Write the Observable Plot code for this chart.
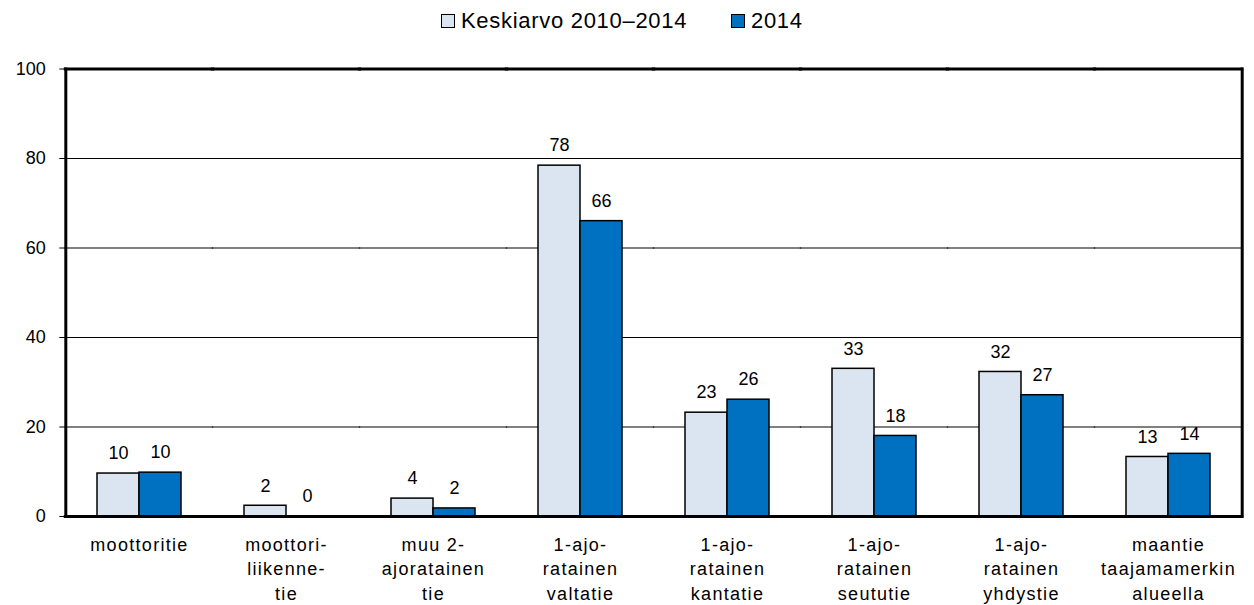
<!DOCTYPE html>
<html><head><meta charset="utf-8">
<script src="https://cdn.jsdelivr.net/npm/d3@7"></script>
<script src="https://cdn.jsdelivr.net/npm/@observablehq/plot@0.6"></script>
<style>
body{margin:0;background:#fff;font-family:"Liberation Sans",Arial,sans-serif;}
#legend{position:relative;height:44px;width:1254px;}
.item{position:absolute;top:7px;display:flex;align-items:center;font-size:22px;color:#000;height:28px;white-space:nowrap;letter-spacing:0.7px}
.sw{width:12px;height:12px;border:1px solid #000;margin-right:6px;box-sizing:content-box}
</style></head><body>
<div id="legend"></div><div id="chart"></div>
<script>
const categories = [
  "moottoritie",
  "moottori-\nliikenne-\ntie",
  "muu 2-\najoratainen\ntie",
  "1-ajo-\nratainen\nvaltatie",
  "1-ajo-\nratainen\nkantatie",
  "1-ajo-\nratainen\nseututie",
  "1-ajo-\nratainen\nyhdystie",
  "maantie\ntaajamamerkin\nalueella"
];
const series = ["Keskiarvo 2010–2014", "2014"];
const avgValues = [9.6, 2.4, 4.0, 78.4, 23.2, 33.0, 32.3, 13.3];
const values2014 = [9.8, 0, 1.8, 66.0, 26.1, 18.0, 27.1, 14.0];
const colors = ["#dbe5f1", "#0070c0"];
const yTicks = [0, 20, 40, 60, 80, 100];
const gridValues = [20, 40, 60, 80];
const borderValues = [0, 100];
const legendLeft = [441, 731];

const data = categories.flatMap((c, i) => [
  {category: c, series: series[0], value: avgValues[i]},
  {category: c, series: series[1], value: values2014[i]}
]);

// legend
const leg = document.getElementById("legend");
series.forEach((s, i) => {
  const it = document.createElement("div");
  it.className = "item";
  it.style.left = legendLeft[i] + "px";
  const sw = document.createElement("span");
  sw.className = "sw";
  sw.style.background = colors[i];
  const tx = document.createElement("span");
  tx.textContent = s;
  it.appendChild(sw); it.appendChild(tx);
  leg.appendChild(it);
});

const W = 1254, mL = 64, mR = 10.5;
const pInner = 0.43, pOuter = 0.215;
// half of the gap between facet bands, so rules join across facets
const step = (W - mL - mR) / (categories.length - pInner + 2 * pOuter);
const halfGap = step * pInner / 2;

const chart = Plot.plot({
  width: W, height: 561,
  marginTop: 24.5, marginBottom: 89, marginLeft: mL, marginRight: mR,
  style: {fontFamily: '"Liberation Sans", Arial, sans-serif', fontSize: "18px", color: "#000", background: "#fff", overflow: "visible"},
  fx: {domain: categories, paddingInner: pInner, paddingOuter: pOuter, label: null},
  x: {domain: series, padding: 0, axis: null},
  y: {domain: [0, 100], label: null},
  color: {domain: series, range: colors},
  marks: [
    Plot.ruleY(gridValues, {stroke: "#000", strokeWidth: 1, insetLeft: -halfGap - 0.5, insetRight: -halfGap - 0.5}),
    Plot.barY(data, {fx: "category", x: "series", y: "value", fill: "series", stroke: "#000", strokeWidth: 1.5}),
    Plot.text(data, {fx: "category", x: "series", y: "value", text: d => d3.format(".0f")(d.value), dy: -20, fontSize: 18}),
    Plot.ruleY(borderValues, {stroke: "#000", strokeWidth: 3, insetLeft: -halfGap - 1.5, insetRight: -halfGap - 1.5}),
    Plot.frame({anchor: "left", facetAnchor: "left", insetLeft: -halfGap, stroke: "#000", strokeWidth: 3}),
    Plot.frame({anchor: "right", facetAnchor: "right", insetRight: -halfGap, stroke: "#000", strokeWidth: 3}),
    Plot.axisY({ticks: yTicks, tickSize: 6, tickPadding: 14, dx: -halfGap, tickFormat: d => d, label: null, fontSize: 18}),
    Plot.axisFx({anchor: "bottom", tickSize: 0, tickPadding: 17, lineHeight: 1.36, label: null, fontSize: 18})
  ]
});
document.getElementById("chart").appendChild(chart);
const fxl = chart.querySelector('[aria-label="fx-axis tick label"]');
if (fxl) fxl.style.letterSpacing = "1.3px";
</script>
</body></html>
